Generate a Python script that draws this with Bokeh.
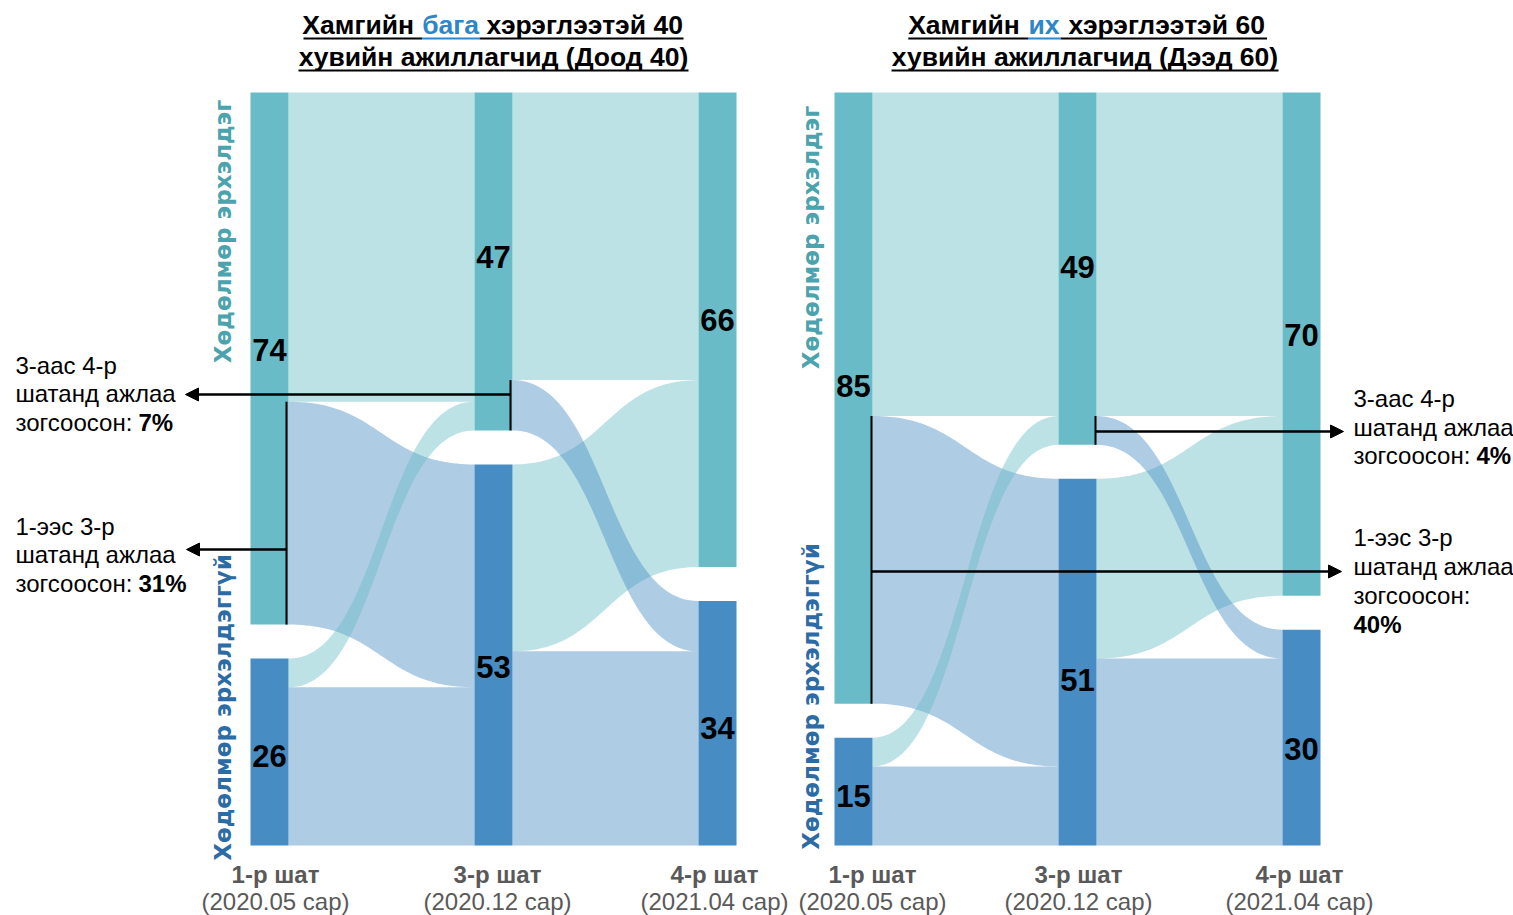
import numpy as np
from bokeh.plotting import figure
from bokeh.models import Range1d, Arrow, NormalHead
from bokeh.embed import file_html
from bokeh.resources import INLINE
from bokeh.core.properties import value

# ---------------- data ----------------
stages = ["1-р шат", "3-р шат", "4-р шат"]
stage_dates = ["(2020.05 сар)", "(2020.12 сар)", "(2021.04 сар)"]
states = ["Хөдөлмөр эрхэлдэг", "Хөдөлмөр эрхэлдэггүй"]

# flows in % : [from state][to state]  (0 = employed, 1 = not employed)
bottom40_flows_1_3 = [[43, 31], [4, 22]]
bottom40_flows_3_4 = [[40, 7], [26, 27]]
top60_flows_1_3 = [[45, 40], [4, 11]]
top60_flows_3_4 = [[45, 4], [25, 26]]

bottom40_title = ["Хамгийн", "бага", "хэрэглээтэй 40", "хувийн ажиллагчид (Доод 40)"]
top60_title = ["Хамгийн", "их", "хэрэглээтэй 60", "хувийн ажиллагчид (Дээд 60)"]

note_13 = "1-ээс 3-р"
note_34 = "3-аас 4-р"
note_mid = "шатанд ажлаа"
note_end = "зогсоосон:"

# ---------------- layout ----------------
W, H = 1513, 915
S = 7.19          # px per percentage point
STEP = 224        # px between stages
NODE_W = 38
GAP = 34
ORIGIN_X = 269
ORIGIN_Y = 92
TEAL = "#69BCC7"
BLUE = "#478CC2"
TEAL_TXT = "#4AA3AD"
BLUE_TXT = "#2C6CA6"
TITLE_BLUE = "#2E85C8"
GRAY = "#595959"
FONT = "Liberation Sans"


def X(px):
    return (px - ORIGIN_X) / STEP


def Y(py):
    return (py - ORIGIN_Y) / S


p = figure(width=W, height=H, x_range=Range1d(X(0), X(W)),
           y_range=Range1d(Y(H), Y(0)), output_backend="svg",
           toolbar_location=None, x_axis_location=None, y_axis_location=None,
           min_border=0, outline_line_color=None, background_fill_color="white")
p.xgrid.visible = False
p.ygrid.visible = False

T = np.linspace(0, 1, 60)


def curve(x0, x1, y0, y1):
    xm = (x0 + x1) / 2
    bx = (1 - T) ** 3 * x0 + 3 * (1 - T) ** 2 * T * xm + 3 * (1 - T) * T ** 2 * xm + T ** 3 * x1
    by = (1 - T) ** 3 * y0 + 3 * (1 - T) ** 2 * T * y0 + 3 * (1 - T) * T ** 2 * y1 + T ** 3 * y1
    return bx, by


def txt(x, y, t, size="24px", color="black", style="normal", align="left",
        baseline="middle", angle=0.0, font=FONT):
    p.text(x=[x], y=[y], text=[t], text_font=value(font), text_font_size=size,
           text_color=color, text_font_style=style, text_align=align,
           text_baseline=baseline, angle=angle)


label_dy = [[[-9, 4], [-4, 12], [-10, 5]], [[-12, 4], [-2, 18], [-9, 11]]]
stage_dx = [[6, 4, -3], [19, 1, -2]]


def draw_panel(panel, x_off, f13, f34):
    flows = [f13, f34]
    vals = [[sum(f13[0]), sum(f13[1])],
            [f13[0][0] + f13[1][0], f13[0][1] + f13[1][1]],
            [f34[0][0] + f34[1][0], f34[0][1] + f34[1][1]]]
    g = GAP / S
    tops = [[0, v[0] + g] for v in vals]
    xc = [x_off + k for k in range(3)]
    hw = NODE_W / STEP / 2
    for t, f in enumerate(flows):
        layers = {0: ([], []), 1: ([], [])}
        tgt_pos = {}
        for j in range(2):
            y = tops[t + 1][j]
            for i in range(2):
                tgt_pos[(i, j)] = y
                y += f[i][j]
        for i in range(2):
            y = tops[t][i]
            for j in range(2):
                v = f[i][j]
                y0s, y1s = y, y + v
                y0t = tgt_pos[(i, j)]
                y1t = y0t + v
                y += v
                x0, x1 = xc[t] + hw, xc[t + 1] - hw
                ax, ay = curve(x0, x1, y0s, y0t)
                bx, by = curve(x1, x0, y1t, y1s)
                layers[j][0].append(list(ax) + list(bx))
                layers[j][1].append(list(ay) + list(by))
        order = [(1, BLUE), (0, TEAL)] if t == 0 else [(0, TEAL), (1, BLUE)]
        for j, col in order:
            p.patches(layers[j][0], layers[j][1], fill_color=col, fill_alpha=0.44,
                      line_color=None)
    # nodes
    for k in range(3):
        for s, col in enumerate([TEAL, BLUE]):
            p.quad(left=[xc[k] - hw], right=[xc[k] + hw], top=[tops[k][s]],
                   bottom=[tops[k][s] + vals[k][s]], fill_color=col, line_color=None)
            txt(xc[k], tops[k][s] + vals[k][s] / 2 + label_dy[panel][k][s] / S,
                str(vals[k][s]), size="31px", style="bold", align="center")
        txt(xc[k] + stage_dx[panel][k] / STEP, Y(874), stages[k], color=GRAY,
            style="bold", align="center")
        txt(xc[k] + stage_dx[panel][k] / STEP, Y(901), stage_dates[k], color=GRAY,
            align="center")
    return vals, tops, xc, hw


def arrow(x0, y0, x1, y1):
    p.add_layout(Arrow(end=NormalHead(size=13, fill_color="black", line_color="black"),
                       x_start=x0, y_start=y0, x_end=x1, y_end=y1,
                       line_color="black", line_width=2.5))


def vline(x, y0, y1):
    p.segment(x0=[x], y0=[y0], x1=[x], y1=[y1], line_color="black", line_width=2)


def note(xpx, ypx, head, pct, pct_dx, pct_newline=False):
    x = X(xpx)
    txt(x, Y(ypx[0]), head)
    txt(x, Y(ypx[1]), note_mid)
    txt(x, Y(ypx[2]), note_end)
    if pct_newline:
        txt(x, Y(ypx[3]), pct, style="bold")
    else:
        txt(x + pct_dx / STEP, Y(ypx[2]), pct, style="bold")


# ---------- left panel ----------
vals, tops, xc, hw = draw_panel(0, 0.0, bottom40_flows_1_3, bottom40_flows_3_4)
xa = xc[0] + hw - 2 / STEP
vline(xa, bottom40_flows_1_3[0][0], vals[0][0])
arrow(xa, Y(549), X(186), Y(549))
note(15, [526, 554, 583], note_13, f"{bottom40_flows_1_3[0][1]}%", 123)
xb = xc[1] + hw - 2 / STEP
vline(xb, bottom40_flows_3_4[0][0], vals[1][0])
arrow(xb, Y(394), X(185), Y(394))
note(15, [365, 393, 422], note_34, f"{bottom40_flows_3_4[0][1]}%", 123)

txt(X(222), Y(231), states[0], size="23px", color=TEAL_TXT, style="bold",
    align="center", angle=np.pi / 2, font="DejaVu Sans")
txt(X(222), Y(707), states[1], size="23px", color=BLUE_TXT, style="bold",
    align="center", angle=np.pi / 2, font="DejaVu Sans")

# ---------- right panel ----------
off = X(853)
vals, tops, xc, hw = draw_panel(1, off, top60_flows_1_3, top60_flows_3_4)
xa = xc[0] + hw - 1 / STEP
vline(xa, top60_flows_1_3[0][0], vals[0][0])
arrow(xa, Y(571), X(1341), Y(571))
note(1353, [537, 566, 595, 624], note_13, f"{top60_flows_1_3[0][1]}%", 0, pct_newline=True)
xb = xc[1] + hw - 1 / STEP
vline(xb, top60_flows_3_4[0][0], vals[1][0])
arrow(xb, Y(431), X(1343), Y(431))
note(1353, [398, 427, 455], note_34, f"{top60_flows_3_4[0][1]}%", 123)

txt(X(810), Y(237), states[0], size="23px", color=TEAL_TXT, style="bold",
    align="center", angle=np.pi / 2, font="DejaVu Sans")
txt(X(810), Y(696), states[1], size="23px", color=BLUE_TXT, style="bold",
    align="center", angle=np.pi / 2, font="DejaVu Sans")


# ---------- titles ----------
def title(parts, a_end, b0, b1, c0, line2_c, ul1, ul2):
    fs = "26.5px"
    txt(X(a_end), Y(24), parts[0], size=fs, style="bold", align="right")
    txt(X(b0), Y(24), parts[1], size=fs, style="bold", color=TITLE_BLUE)
    txt(X(c0), Y(24), parts[2], size=fs, style="bold")
    txt(X(line2_c), Y(56), parts[3], size=fs, style="bold", align="center")
    p.segment(x0=[X(ul1[0]), X(b1)], y0=[Y(38), Y(38)], x1=[X(b0), X(ul1[1])],
              y1=[Y(38), Y(38)], line_color="black", line_width=2)
    p.segment(x0=[X(b0)], y0=[Y(38)], x1=[X(b1)], y1=[Y(38)], line_color=TITLE_BLUE,
              line_width=2)
    p.segment(x0=[X(ul2[0])], y0=[Y(70)], x1=[X(ul2[1])], y1=[Y(70)], line_color="black",
              line_width=2)


title(bottom40_title, 413.5, 421.7, 479, 486, 493, (303, 683), (298, 688))
title(top60_title, 1019.3, 1028, 1060, 1068, 1084.5, (907.8, 1266.5), (891, 1278))

open("out.html", "w").write(file_html(p, INLINE))
